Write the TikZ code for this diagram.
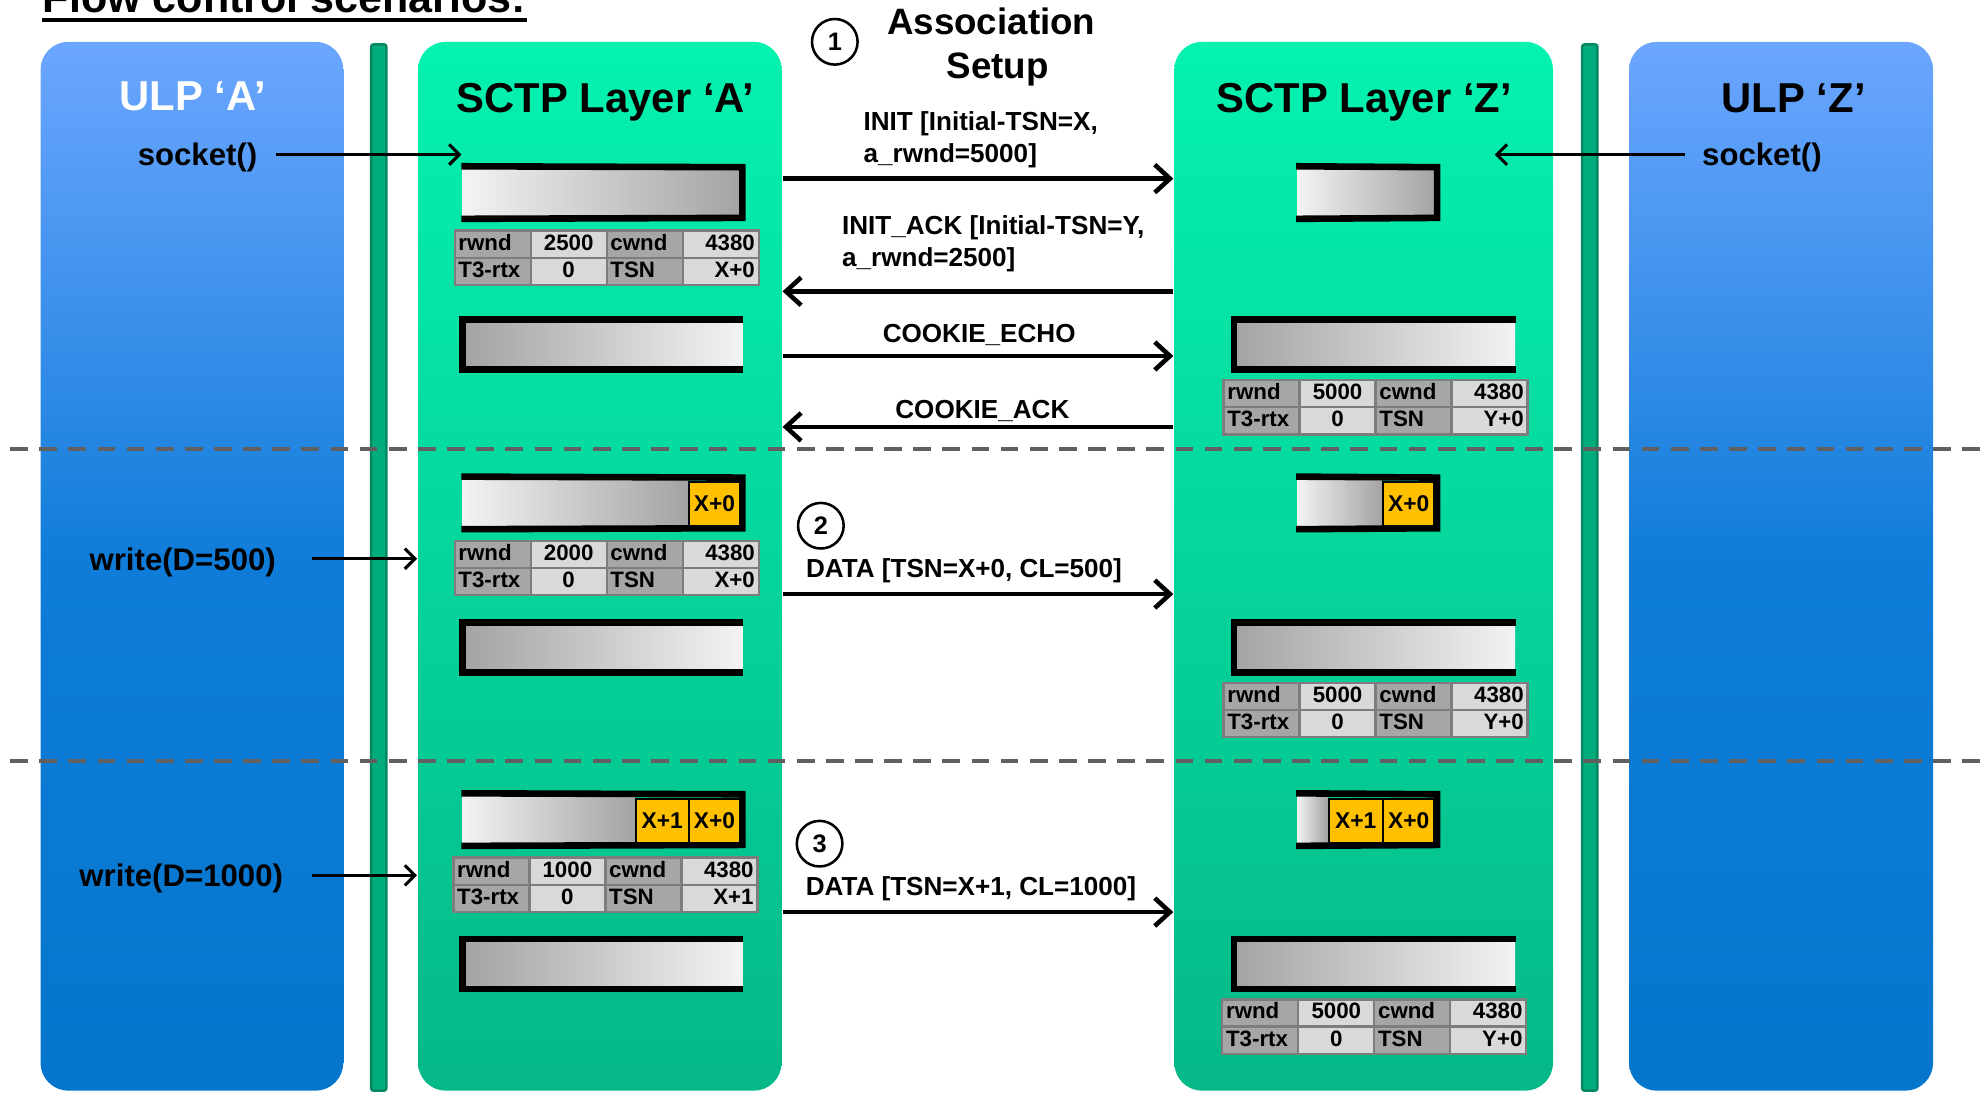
\documentclass[tikz,border=0pt]{standalone}
\usepackage{fontspec}
\setmainfont{Liberation Sans}
\usetikzlibrary{arrows.meta,fit}

\definecolor{ulplight}{RGB}{108,166,255}
\definecolor{ulpmid}{RGB}{14,124,216}
\definecolor{ulpdark}{RGB}{5,118,204}
\definecolor{sctptop}{RGB}{5,242,176}
\definecolor{sctpbot}{RGB}{5,184,136}
\definecolor{barfill}{RGB}{0,172,124}
\definecolor{bardraw}{RGB}{0,136,98}
\definecolor{buflight}{RGB}{243,243,243}
\definecolor{bufdark}{RGB}{163,163,163}
\definecolor{chunkfill}{RGB}{255,192,0}
\definecolor{celldark}{RGB}{166,166,166}
\definecolor{celllight}{RGB}{217,217,217}
\definecolor{cellline}{RGB}{125,125,125}
\definecolor{dashgray}{RGB}{96,96,96}

\pgfdeclareverticalshading{ulpshade}{100bp}{color(0bp)=(ulpdark); color(25bp)=(ulpdark); color(50bp)=(ulpmid); color(75bp)=(ulplight); color(100bp)=(ulplight)}

\tikzset{every picture/.style={line width=0.75pt}}
\tikzset{
  ulpcol/.style={rounded corners=11pt, shade, shading=ulpshade, inner sep=0pt},
  sctpcol/.style={rounded corners=11pt, top color=sctptop, bottom color=sctpbot, inner sep=0pt},
  sepbar/.style={fill=barfill, draw=bardraw, line width=1pt, rounded corners=1pt, inner sep=0pt},
  coltitle/.style={font=\fontsize{16.5}{18}\selectfont\bfseries, inner sep=0pt, anchor=base},
  calltext/.style={font=\fontsize{12.3}{14}\selectfont\bfseries, inner sep=0pt, anchor=base west},
  msgtext/.style={font=\fontsize{10.3}{12.5}\selectfont\bfseries, inner sep=0pt, anchor=base west},
  phasetext/.style={font=\fontsize{14.5}{17}\selectfont\bfseries, inner sep=0pt, anchor=base},
  numcircle/.style={circle, draw, line width=1pt, minimum size=18pt, inner sep=0pt, font=\fontsize{10}{12}\selectfont\bfseries},
  msgarrow/.style={line width=1.8pt, -{Straight Barb[length=6pt,width=11pt]}},
  callarrow/.style={line width=1.2pt, -{Straight Barb[length=4pt,width=8pt]}},
  sendbuf/.style={left color=buflight, right color=bufdark, inner sep=0pt},
  recvbuf/.style={left color=bufdark, right color=buflight, inner sep=0pt},
  bufedge/.style={line width=2.6pt, draw=black},
  chunk/.style={anchor=north west, fill=chunkfill, draw=black, line width=0.8pt, inner sep=0pt, minimum height=17.4pt, minimum width=20.2pt, font=\fontsize{9}{10}\selectfont\bfseries},
  lblcell/.style={anchor=north west, fill=celldark, draw=cellline, line width=0.9pt, minimum height=10.75pt, text width=27pt, inner xsep=1.5pt, inner ysep=0pt, text height=6.3pt, text depth=1.6pt, align=left, font=\fontsize{8.8}{10}\selectfont\bfseries},
  valcell/.style={lblcell, fill=celllight, align=center},
  valcellr/.style={lblcell, fill=celllight, align=right},
  phaseline/.style={draw=dashgray, line width=1.5pt, dash pattern=on 7pt off 4.5pt},
}

% send queue: light to dark, closed on the right
\newcommand{\sndbuf}[6]{%
  \node[sendbuf, fit={(#2,#3) (#4,#6)}] (#1) {};
  \draw[bufedge] (#1.north west) -- (#5,#3) -- (#5,#6) -- (#1.south west);
}
% receive queue: dark to light, closed on the left
\newcommand{\rcvbuf}[5]{%
  \node[recvbuf, fit={(#2,#3) (#4,#5)}] (#1) {};
  \draw[bufedge] (#1.north east) -- (#1.north west) -- (#1.south west) -- (#1.south east);
}
% state table
\newcommand{\cwtab}[5]{%
  \node[lblcell] (#1-rw) at (#2,#3) {rwnd};
  \node[valcell] (#1-rwv) at (#2+60,#3) {#4};
  \node[lblcell] (#1-cw) at (#2+120,#3) {cwnd};
  \node[valcellr] (#1-cwv) at (#2+180,#3) {4380};
  \node[lblcell] (#1-t3) at (#2,#3+21.5) {T3-rtx};
  \node[valcell] (#1-t3v) at (#2+60,#3+21.5) {0};
  \node[lblcell] (#1-tsn) at (#2+120,#3+21.5) {TSN};
  \node[valcellr] (#1-tsnv) at (#2+180,#3+21.5) {#5};
}

\begin{document}
\begin{tikzpicture}[x=0.5pt,y=0.5pt,yscale=-1,xscale=1]
\useasboundingbox (0,0) rectangle (1567,863);

%Shape: Columns
\node[ulpcol, fit={(32,33) (271,861)}] (ulpA) {};
\node[sepbar, fit={(293,35) (305,861)}] (barA) {};
\node[sctpcol, fit={(330,33) (617,861)}] (sctpA) {};
\node[sctpcol, fit={(927,33) (1226,861)}] (sctpZ) {};
\node[sepbar, fit={(1249,35) (1261,861)}] (barZ) {};
\node[ulpcol, fit={(1286,33) (1526,861)}] (ulpZ) {};

% Text Node
\node[coltitle, text=white] (ulpAt) at (152,87) {ULP ‘A’};
\node[coltitle] (sctpAt) at (478,88.5) {SCTP Layer ‘A’};
\node[coltitle] (sctpZt) at (1077,88.5) {SCTP Layer ‘Z’};
\node[coltitle] (ulpZt) at (1416,89) {ULP ‘Z’};

%Shape: Buffers, phase 1
\sndbuf{sndA1}{365}{132}{586}{586}{172}
\cwtab{tabA1}{358}{181}{2500}{X+0}
\rcvbuf{rcvA1}{366}{253}{586}{291}
\sndbuf{sndZ1}{1024}{132}{1134.5}{1134.5}{172}
\rcvbuf{rcvZ1}{975}{253}{1196}{291}
\cwtab{tabZ1}{965}{299}{5000}{Y+0}

%Shape: Buffers, phase 2
\sndbuf{sndA2}{365}{377}{543}{586}{417}
\node[chunk] (qA2a) at (543,379.6) {X+0};
\cwtab{tabA2}{358}{426}{2000}{X+0}
\rcvbuf{rcvA2}{366}{492}{586}{530}
\sndbuf{sndZ2}{1024}{377}{1091}{1134.5}{417}
\node[chunk] (qZ2a) at (1091,379.6) {X+0};
\rcvbuf{rcvZ2}{975}{492}{1196}{530}
\cwtab{tabZ2}{965}{538}{5000}{Y+0}

%Shape: Buffers, phase 3
\sndbuf{sndA3}{365}{627}{501}{586}{667}
\node[chunk, minimum width=21pt] (qA3b) at (501,629.6) {X+1};
\node[chunk] (qA3a) at (543,629.6) {X+0};
\cwtab{tabA3}{357}{676}{1000}{X+1}
\rcvbuf{rcvA3}{366}{742}{586}{780}
\sndbuf{sndZ3}{1024}{627}{1048}{1134.5}{667}
\node[chunk, minimum width=21.5pt] (qZ3b) at (1048,629.6) {X+1};
\node[chunk] (qZ3a) at (1091,629.6) {X+0};
\rcvbuf{rcvZ3}{975}{742}{1196}{780}
\cwtab{tabZ3}{964}{788}{5000}{Y+0}

% Text Node
\node[numcircle] (step1) at (659,33) {1};
\node[phasetext] (assoc1) at (782.5,27) {Association};
\node[phasetext] (assoc2) at (787.5,62) {Setup};
\node[numcircle] (step2) at (648,415) {2};
\node[numcircle] (step3) at (647,666) {3};

% Text Node
\node[calltext] (socketA) at (108,131) {socket()};
\node[calltext] (socketZ) at (1343,131) {socket()};
\node[calltext] (writeA2) at (70,450) {write(D=500)};
\node[calltext] (writeA3) at (62,700) {write(D=1000)};

% Text Node
\node[msgtext] (init1) at (681,103) {INIT [Initial-TSN=X,};
\node[msgtext] (init2) at (681,128) {a\_rwnd=5000]};
\node[msgtext] (ack1) at (664,185.5) {INIT\_ACK [Initial-TSN=Y,};
\node[msgtext] (ack2) at (664,210.5) {a\_rwnd=2500]};
\node[msgtext, anchor=base] (echo) at (773,270) {COOKIE\_ECHO};
\node[msgtext, anchor=base] (cack) at (775.5,330) {COOKIE\_ACK};
\node[msgtext, anchor=base] (data1) at (761,455.5) {DATA [TSN=X+0, CL=500]};
\node[msgtext, anchor=base] (data2) at (766.5,707) {DATA [TSN=X+1, CL=1000]};

%Straight Lines
\coordinate (m1) at (0,141);
\coordinate (m2) at (0,230);
\coordinate (m3) at (0,281);
\coordinate (m4) at (0,337);
\coordinate (m5) at (0,469);
\coordinate (m6) at (0,720);
\draw[msgarrow] (sctpA.east |- m1) -- (sctpZ.west |- m1);
\draw[msgarrow] (sctpZ.west |- m2) -- (sctpA.east |- m2);
\draw[msgarrow] (sctpA.east |- m3) -- (sctpZ.west |- m3);
\draw[msgarrow] (sctpZ.west |- m4) -- (sctpA.east |- m4);
\draw[msgarrow] (sctpA.east |- m5) -- (sctpZ.west |- m5);
\draw[msgarrow] (sctpA.east |- m6) -- (sctpZ.west |- m6);

%Straight Lines
\coordinate (sockZtip) at (1180,0);
\draw[callarrow] ([xshift=7pt,yshift=-1.3pt]socketA.east) -- ([yshift=-1.3pt]socketA.east -| sndA1.west);
\draw[callarrow] ([xshift=-6.5pt,yshift=-1.3pt]socketZ.west) -- ([yshift=-1.3pt]socketZ.west -| sockZtip);
\draw[callarrow] ([xshift=14pt,yshift=-1.3pt]writeA2.east) -- ([yshift=-1.3pt]writeA2.east -| sctpA.west);
\draw[callarrow] ([xshift=11pt,yshift=-1.3pt]writeA3.east) -- ([yshift=-1.3pt]writeA3.east -| sctpA.west);

%Shape: Phase separators
\draw[phaseline] (8,354.5) -- (1567,354.5);
\draw[phaseline] (8,600.5) -- (1567,600.5);

% Text Node
\node[font=\fontsize{17}{20}\selectfont\bfseries, anchor=base west, inner sep=0pt] (flowtitle) at (33,10) {Flow control scenarios:};
\draw[line width=1.5pt] ([yshift=3pt]flowtitle.base west) -- ([yshift=3pt]flowtitle.base east);

\end{tikzpicture}
\end{document}
